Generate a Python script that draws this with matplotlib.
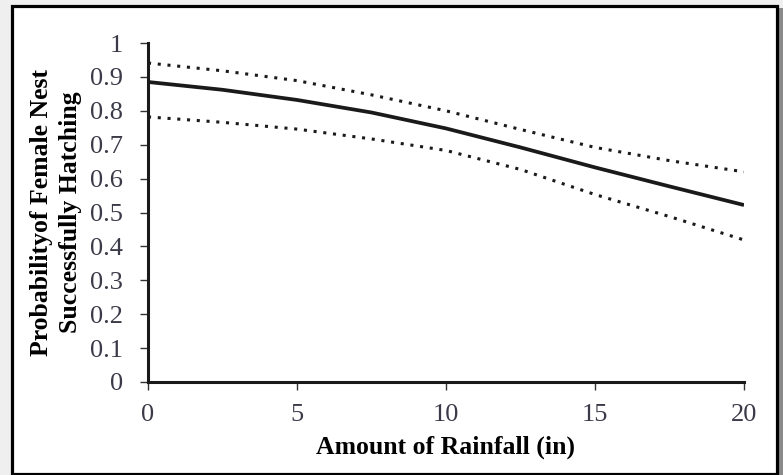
import matplotlib
matplotlib.use("Agg")
import matplotlib.pyplot as plt
from matplotlib.patches import Rectangle

# rainfall (in) and estimated probabilities
rainfall = [0, 2.5, 5, 7.5, 10, 12.5, 15, 17.5, 20]
prob_fit = [0.885, 0.862, 0.832, 0.795, 0.748, 0.692, 0.633, 0.577, 0.522]
prob_upper = [0.941, 0.918, 0.889, 0.847, 0.800, 0.745, 0.692, 0.653, 0.620]
prob_lower = [0.782, 0.766, 0.746, 0.717, 0.683, 0.627, 0.553, 0.488, 0.419]

x_ticks = [0, 5, 10, 15, 20]
y_ticks = [0, 0.1, 0.2, 0.3, 0.4, 0.5, 0.6, 0.7, 0.8, 0.9, 1]
y_tick_labels = ["0", "0.1", "0.2", "0.3", "0.4", "0.5", "0.6", "0.7", "0.8", "0.9", "1"]

plt.rcParams["font.family"] = ["Liberation Serif", "DejaVu Serif"]

W, H = 783, 475
fig = plt.figure(figsize=(W / 100, H / 100), dpi=100, facecolor="#efefef")

# drop shadow + framed white panel (behind the axes)
fig.patches.append(Rectangle((777 / W, 0), 6 / W, 1 - 8 / H, transform=fig.transFigure,
                             facecolor="#8a8a8a", edgecolor="none", zorder=-2))
fig.patches.append(Rectangle((11.5 / W, 1.5 / H), 765 / W, 1 - 7 / H, transform=fig.transFigure,
                             facecolor="white", edgecolor="black", linewidth=2.3, zorder=-1))

ax = fig.add_axes([148 / W, 1 - 382 / H, (744 - 148) / W, (382 - 43) / H])
ax.set_zorder(2)
ax.set_facecolor("none")

ax.plot(rainfall, prob_fit, color="#1a1a1a", linewidth=2.7, solid_capstyle="butt")
ax.plot(rainfall, prob_upper, color="#1a1a1a", linewidth=2.2, linestyle=(0, (1, 2.2)))
ax.plot(rainfall, prob_lower, color="#1a1a1a", linewidth=2.2, linestyle=(0, (1, 2.2)))

ax.set_xlim(0, 20)
ax.set_ylim(0, 1)
ax.set_xticks(x_ticks)
ax.set_yticks(y_ticks)
ax.set_yticklabels(y_tick_labels)

for side in ["top", "right"]:
    ax.spines[side].set_visible(False)
for side in ["left", "bottom"]:
    ax.spines[side].set_linewidth(2.2)
    ax.spines[side].set_color("#1a1a1a")

ax.tick_params(axis="both", direction="out", length=6, width=1.0, color="#333333",
               labelsize=19, labelcolor="#3a3a48")
ax.tick_params(axis="x", pad=10)
ax.tick_params(axis="y", pad=12)

ax.set_xlabel("Amount of Rainfall (in)", fontsize=18.5, fontweight="bold", labelpad=7)
ax.set_ylabel("Probabilityof Female Nest\nSuccessfully Hatching", fontsize=18.5,
              fontweight="bold", labelpad=6, linespacing=1.3)

fig.savefig("out.png", dpi=100, facecolor=fig.get_facecolor())
